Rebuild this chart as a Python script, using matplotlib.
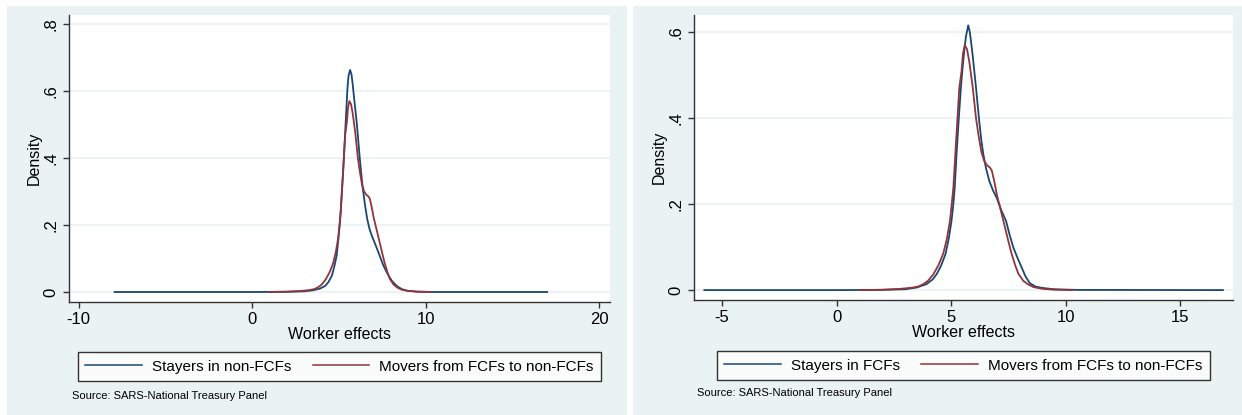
import matplotlib
matplotlib.use("Agg")
import matplotlib.pyplot as plt
from matplotlib.patches import Rectangle
from matplotlib.lines import Line2D

plt.rcParams['font.family'] = ['Liberation Sans', 'DejaVu Sans']

# --- DATA ---
# movers from FCFs to non-FCFs (same series in both panels)
movers_x = [1.0, 2.0, 2.8, 3.35, 3.6, 3.79, 4.0, 4.23, 4.45, 4.66, 4.82, 4.95, 5.03, 5.1,
            5.18, 5.27, 5.36, 5.46, 5.52, 5.6, 5.7, 5.8, 5.94, 6.09, 6.2, 6.33, 6.45, 6.58,
            6.7, 6.78, 6.9, 7.0, 7.15, 7.3, 7.45, 7.64, 7.8, 7.94, 8.15, 8.37, 8.6, 9.0,
            9.5, 10.3]
movers_y = [0.0, 0.001, 0.003, 0.006, 0.009, 0.014, 0.022, 0.037, 0.058, 0.085, 0.12, 0.16,
            0.2, 0.238, 0.31, 0.39, 0.47, 0.51, 0.55, 0.57, 0.56, 0.53, 0.475, 0.4, 0.36,
            0.32, 0.3, 0.29, 0.285, 0.278, 0.25, 0.222, 0.19, 0.158, 0.125, 0.085, 0.058,
            0.038, 0.022, 0.013, 0.007, 0.003, 0.001, 0.0]

# stayers in non-FCFs (left panel)
stay_non_x = [-7.93, 0.0, 2.0, 3.0, 3.5, 3.9, 4.2, 4.4, 4.6, 4.75, 4.87, 4.97, 5.06, 5.12,
              5.18, 5.24, 5.29, 5.34, 5.39, 5.44, 5.49, 5.55, 5.64, 5.72, 5.78, 5.83, 5.92,
              6.02, 6.1, 6.18, 6.27, 6.37, 6.5, 6.62, 6.75, 6.89, 7.05, 7.2, 7.37, 7.55,
              7.79, 8.05, 8.33, 8.6, 8.91, 9.5, 10.5, 17.0]
stay_non_y = [0.0, 0.0, 0.0005, 0.002, 0.005, 0.01, 0.018, 0.03, 0.05, 0.08, 0.11, 0.16,
              0.21, 0.26, 0.31, 0.36, 0.41, 0.46, 0.51, 0.56, 0.61, 0.645, 0.663, 0.65,
              0.625, 0.6, 0.555, 0.507, 0.46, 0.41, 0.36, 0.31, 0.26, 0.22, 0.19, 0.168,
              0.148, 0.128, 0.105, 0.08, 0.055, 0.033, 0.018, 0.009, 0.004, 0.001, 0.0, 0.0]

# stayers in FCFs (right panel)
stay_fcf_x = [-5.77, 0.0, 2.0, 3.0, 3.5, 3.93, 4.2, 4.37, 4.55, 4.76, 4.9, 5.02, 5.1, 5.16,
              5.24, 5.33, 5.43, 5.5, 5.56, 5.65, 5.75, 5.82, 5.88, 5.94, 6.09, 6.23, 6.33,
              6.41, 6.52, 6.67, 6.83, 6.99, 7.2, 7.4, 7.55, 7.72, 7.9, 8.08, 8.25, 8.44,
              8.7, 9.0, 9.5, 10.5, 16.87]
stay_fcf_y = [0.0, 0.0, 0.0005, 0.002, 0.006, 0.014, 0.025, 0.037, 0.055, 0.084, 0.12,
              0.161, 0.2, 0.238, 0.316, 0.393, 0.471, 0.515, 0.548, 0.59, 0.616, 0.6,
              0.575, 0.548, 0.471, 0.393, 0.345, 0.316, 0.285, 0.254, 0.232, 0.215, 0.185,
              0.161, 0.13, 0.099, 0.075, 0.053, 0.032, 0.016, 0.008, 0.005, 0.002, 0.0005, 0.0]

left_xticks = [-10, 0, 10, 20]
left_yticks = [0, 0.2, 0.4, 0.6, 0.8]
left_ylabels = ['0', '.2', '.4', '.6', '.8']
right_xticks = [-5, 0, 5, 10, 15]
right_yticks = [0, 0.2, 0.4, 0.6]
right_ylabels = ['0', '.2', '.4', '.6']

NAVY = '#1a476f'
MAROON = '#90353b'
BG = '#eaf2f3'
W, H = 1242, 415

fig = plt.figure(figsize=(12.42, 4.15), dpi=100)
fig.patch.set_facecolor('white')

# panel backgrounds (Stata s2color)
fig.add_artist(Rectangle((7 / W, 0), (627 - 7) / W, (415 - 6) / H, transform=fig.transFigure,
                         facecolor=BG, edgecolor='none', zorder=0))
fig.add_artist(Rectangle((633 / W, 0), (1242 - 633) / W, (415 - 6) / H, transform=fig.transFigure,
                         facecolor=BG, edgecolor='none', zorder=0))


def make_panel(box, xlim, ylim, xticks, yticks, ylabels, blue_x, blue_y, blue_lab, leg_y, src_xy):
    l, r, t, b = box
    ax = fig.add_axes([l / W, 1 - b / H, (r - l) / W, (b - t) / H])
    ax.set_facecolor('white')
    ax.plot(blue_x, blue_y, color=NAVY, lw=1.3, zorder=3)
    ax.plot(movers_x, movers_y, color=MAROON, lw=1.3, zorder=3)
    ax.set_xlim(*xlim)
    ax.set_ylim(*ylim)
    ax.set_xticks(xticks)
    ax.set_xticklabels([str(v) for v in xticks])
    ax.set_yticks(yticks)
    ax.set_yticklabels(ylabels, rotation=90, va='center')
    ax.yaxis.grid(True, color=BG, lw=1.3)
    ax.set_axisbelow(True)
    for s in ['top', 'right']:
        ax.spines[s].set_visible(False)
    for s in ['left', 'bottom']:
        ax.spines[s].set_color('#333333')
        ax.spines[s].set_linewidth(1.0)
    ax.tick_params(direction='out', length=4.5, width=1, color='#333333', labelsize=12, pad=3)
    ax.set_xlabel('Worker effects', fontsize=11.5, labelpad=0)
    ax.set_ylabel('Density', fontsize=11.5, labelpad=1)

    handles = [Line2D([], [], color=NAVY, lw=1.1), Line2D([], [], color=MAROON, lw=1.1)]
    leg = ax.legend(handles, [blue_lab, 'Movers from FCFs to non-FCFs'], loc='upper center',
                    bbox_to_anchor=(0.5, leg_y), ncol=2, fontsize=11, frameon=True,
                    fancybox=False, edgecolor='black', borderaxespad=0, handlelength=3.7,
                    handletextpad=0.65, columnspacing=1.4, borderpad=0.5)
    leg.get_frame().set_linewidth(1.0)
    fig.text(src_xy[0] / W, 1 - src_xy[1] / H, 'Source: SARS-National Treasury Panel',
             fontsize=8, va='center', ha='left')
    return ax


make_panel((69, 610, 15, 302), (-10.56, 20.62), (-0.0299, 0.827), left_xticks, left_yticks,
           left_ylabels, stay_non_x, stay_non_y, 'Stayers in non-FCFs', -0.174, (72, 396))
make_panel((693.6, 1233, 15, 300), (-6.24, 17.31), (-0.023, 0.64), right_xticks, right_yticks,
           right_ylabels, stay_fcf_x, stay_fcf_y, 'Stayers in FCFs', -0.179, (697, 393))

plt.savefig('out.png', dpi=100, facecolor='white')
